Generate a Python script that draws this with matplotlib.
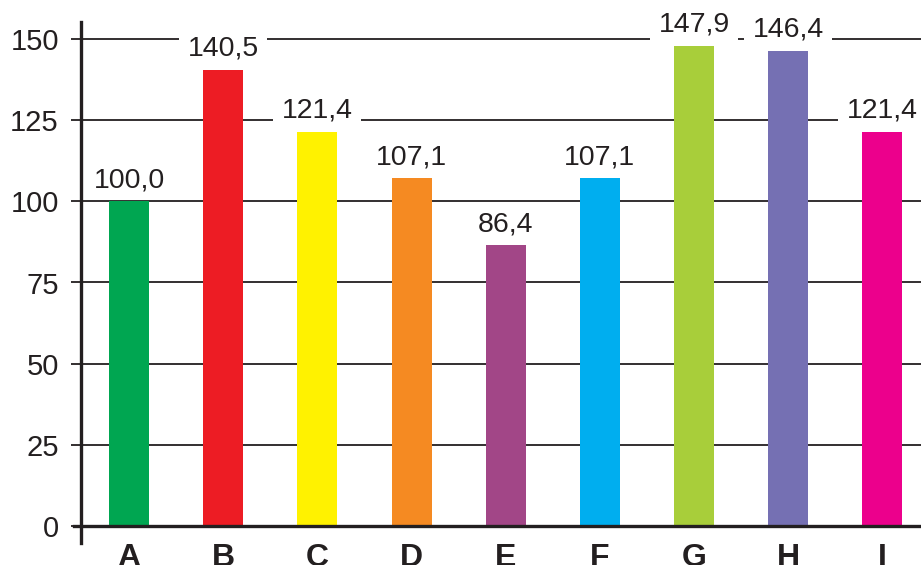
import matplotlib.pyplot as plt
from matplotlib.path import Path

plt.rcParams["font.family"] = ["Liberation Sans", "DejaVu Sans"]

categories = ["A", "B", "C", "D", "E", "F", "G", "H", "I"]
values = [100.0, 140.5, 121.4, 107.1, 86.4, 107.1, 147.9, 146.4, 121.4]
colors = ["#00A651", "#ED1C24", "#FFF200", "#F58A22", "#A24687",
          "#00AEEF", "#A8CE3A", "#7570B3", "#EC008C"]
yticks = [0, 25, 50, 75, 100, 125, 150]


def label_box(x0, y0, width, height, mutation_size):
    # wide on the sides, tight top and bottom, so rules break only beside the text
    px, py = 0.3 * mutation_size, 0.06 * mutation_size
    x0, x1 = x0 - px, x0 + width + px
    y0, y1 = y0 - py, y0 + height + py
    return Path([(x0, y0), (x1, y0), (x1, y1), (x0, y1), (x0, y0)], closed=True)


fig = plt.figure(figsize=(9.21, 5.65), dpi=100)
ax = fig.add_axes([0.088, 0.039, 0.912, 0.922])

x = range(len(categories))
ax.bar(x, values, width=0.425, color=colors, zorder=2)

# horizontal rules behind the bars (0 is drawn separately as the base line)
for t in yticks[1:]:
    ax.axhline(t, color="#231F20", lw=1.3, zorder=1)
ax.axhline(0, xmin=-0.008, xmax=1, color="#231F20", lw=2.4,
           clip_on=False, zorder=5)

for xi, v in zip(x, values):
    ax.annotate(f"{v:.1f}".replace(".", ","), (xi, v), xytext=(0, 10),
                textcoords="offset points", ha="center", va="baseline",
                fontsize=20.5, color="#231F20", zorder=4,
                bbox=dict(boxstyle=label_box, fc="white", ec="none"))

ax.set_xlim(-0.51, 8.41)
ax.set_ylim(-5.24, 155.24)
ax.set_yticks(yticks)
ax.set_xticks(list(x))
ax.set_xticklabels(categories, fontsize=23, fontweight="bold", color="#231F20")
ax.tick_params(axis="y", length=7, width=1.3, pad=9, labelsize=21,
               colors="#231F20", direction="out")
ax.tick_params(axis="x", length=0, pad=0)

for s in ["top", "right", "bottom"]:
    ax.spines[s].set_visible(False)
ax.spines["left"].set_linewidth(2.4)
ax.spines["left"].set_color("#231F20")
ax.spines["left"].set_zorder(5)

fig.savefig("out.png", dpi=100)
